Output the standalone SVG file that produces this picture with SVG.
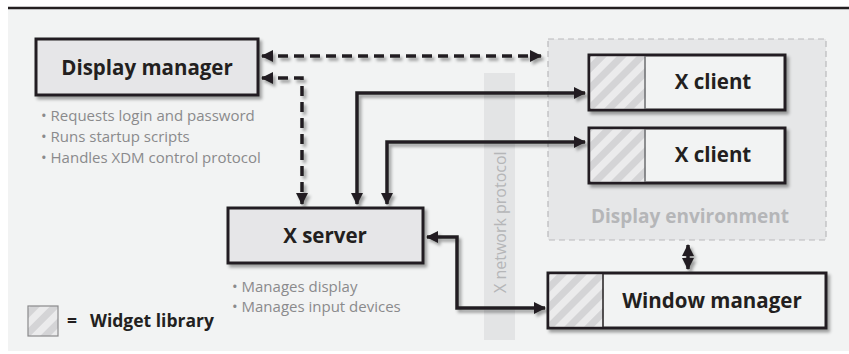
<svg xmlns="http://www.w3.org/2000/svg" width="849" height="354" viewBox="0 0 849 354">
<defs>
<style>
.box{fill:#e6e6e8;stroke:#231f20;stroke-width:3}
.wbox{fill:#f2f3f3;stroke:#231f20;stroke-width:3}
.lbl{font-family:"Open Sans",sans-serif;font-weight:bold;font-size:20.5px;fill:#231f20;text-anchor:middle}
.bul{font-family:"Open Sans",sans-serif;font-size:15px;fill:#8a8a8c}
.conn{fill:none;stroke:#231f20;stroke-width:3.5}
.dash{stroke-dasharray:10 6}
</style>
<pattern id="hatch" patternUnits="userSpaceOnUse" width="14" height="14" patternTransform="rotate(45)">
<rect width="14" height="14" fill="#ebebec"/>
<rect width="7" height="14" fill="#d4d4d6"/>
</pattern>
<marker id="ah" markerUnits="userSpaceOnUse" markerWidth="14" markerHeight="14" viewBox="0 0 14 14" refX="11" refY="7" orient="auto-start-reverse">
<path d="M0,1 L12,7 L0,13 Z" fill="#231f20"/>
</marker>
<filter id="sh" filterUnits="userSpaceOnUse" x="0" y="0" width="849" height="354">
<feDropShadow dx="2.5" dy="3" stdDeviation="1.8" flood-color="#000" flood-opacity="0.35"/>
</filter>
</defs>
<rect x="8" y="9" width="841" height="342" fill="#f2f3f3"/>
<line x1="8" y1="8" x2="849" y2="8" stroke="#231f20" stroke-width="2.5"/>

<g id="display-environment">
<rect x="548" y="39" width="278" height="201" fill="#e6e7e8" stroke="#b9babc" stroke-width="1.2" stroke-dasharray="6 4"/>
<text x="690" y="223" font-family="'Open Sans',sans-serif" font-weight="bold" font-size="19px" fill="#b5b6b8" text-anchor="middle">Display environment</text>
</g>

<g id="x-network-protocol">
<rect x="484" y="73" width="31" height="267" fill="#e3e4e5"/>
<text transform="translate(506,293) rotate(-90)" font-family="'Open Sans',sans-serif" font-size="16px" fill="#b5b6b8">X network protocol</text>
</g>

<g id="connectors">
<path class="conn dash" d="M262,56 H541" marker-start="url(#ah)" marker-end="url(#ah)" filter="url(#sh)"/>
<path class="conn dash" d="M262,78 H302 V204" marker-start="url(#ah)" marker-end="url(#ah)" filter="url(#sh)"/>
<path class="conn" d="M585,93 H357 V204" marker-start="url(#ah)" marker-end="url(#ah)" filter="url(#sh)"/>
<path class="conn" d="M585,142 H387 V204" marker-start="url(#ah)" marker-end="url(#ah)" filter="url(#sh)"/>
<path class="conn" d="M427,237 H457 V308 H545" marker-start="url(#ah)" marker-end="url(#ah)" filter="url(#sh)"/>
<path class="conn" d="M688,245 V269" marker-start="url(#ah)" marker-end="url(#ah)" filter="url(#sh)"/>
</g>

<g id="display-manager">
<rect class="box" x="36" y="39" width="222" height="56" filter="url(#sh)"/>
<text class="lbl" x="147" y="75" font-size="21px">Display manager</text>
<text class="bul" x="41" y="121">• Requests login and password</text>
<text class="bul" x="41" y="142">• Runs startup scripts</text>
<text class="bul" x="41" y="163">• Handles XDM control protocol</text>
</g>

<g id="x-server">
<rect class="box" x="228" y="208" width="195" height="55" filter="url(#sh)"/>
<text class="lbl" x="325" y="243">X server</text>
<text class="bul" x="232" y="292">• Manages display</text>
<text class="bul" x="232" y="312">• Manages input devices</text>
</g>

<g id="x-client-1">
<rect class="wbox" x="589" y="55" width="196" height="55" filter="url(#sh)"/>
<rect x="590.5" y="56.5" width="55" height="52" fill="url(#hatch)"/>
<line x1="645" y1="56" x2="645" y2="109" stroke="#6d6e70" stroke-width="1.5"/>
<text class="lbl" x="713" y="89">X client</text>
</g>

<g id="x-client-2">
<rect class="wbox" x="589" y="128" width="196" height="55" filter="url(#sh)"/>
<rect x="590.5" y="129.5" width="55" height="52" fill="url(#hatch)"/>
<line x1="645" y1="129" x2="645" y2="182" stroke="#6d6e70" stroke-width="1.5"/>
<text class="lbl" x="713" y="162">X client</text>
</g>

<g id="window-manager">
<rect class="wbox" x="548" y="273" width="278" height="55" filter="url(#sh)"/>
<rect x="549.5" y="274.5" width="54" height="52" fill="url(#hatch)"/>
<line x1="603" y1="274" x2="603" y2="327" stroke="#231f20" stroke-width="1.5"/>
<text class="lbl" x="712" y="308">Window manager</text>
</g>

<g id="legend">
<rect x="28" y="306" width="30" height="30" fill="url(#hatch)" stroke="#8a8a8c" stroke-width="1.2"/>
<text x="67" y="327" font-family="'Open Sans',sans-serif" font-weight="bold" font-size="17.5px" fill="#231f20">=</text>
<text x="90" y="327" font-family="'Open Sans',sans-serif" font-weight="bold" font-size="17.5px" fill="#231f20">Widget library</text>
</g>
</svg>
